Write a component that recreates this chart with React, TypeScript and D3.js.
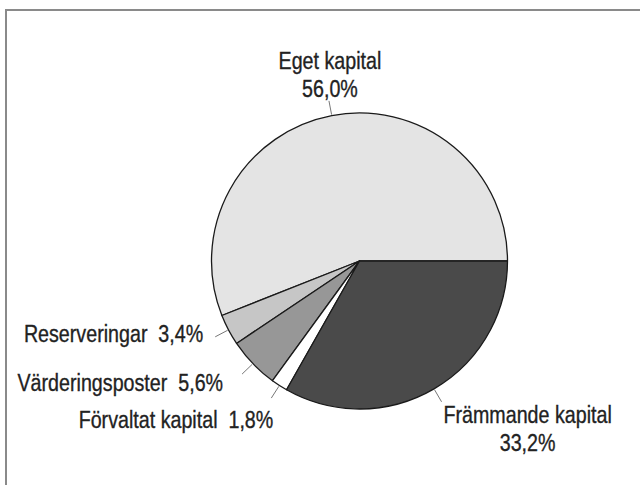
import React from 'react';
import * as d3 from 'd3';

const categories = ['Eget kapital', 'Reserveringar', 'Värderingsposter', 'Förvaltat kapital', 'Främmande kapital'];
const shares = [56.0, 3.4, 5.6, 1.8, 33.2];
const shareLabels = ['56,0%', '3,4%', '5,6%', '1,8%', '33,2%'];
const fills = ['#e4e4e4', '#c6c6c6', '#979797', '#ffffff', '#4a4a4a'];

const width = 640;
const height = 485;
const cx = 359.5;
const cy = 261;
const radius = 148;
// no condensed face installed, so squeeze Liberation Sans horizontally
const font = '"Liberation Sans", Arial, sans-serif';
const squeeze = 0.82;

// where each label sits relative to the outer end of its leader line
const labelPlacement = [
  { anchor: 'middle', dx: 1, lines: [{ dy: -32, name: true }, { dy: -4, pct: true }] },
  { anchor: 'end', dx: -12, lines: [{ dy: 5, both: true }] },
  { anchor: 'end', dx: -19, lines: [{ dy: 17, both: true }] },
  { anchor: 'end', dx: 2, lines: [{ dy: 30, both: true }] },
  { anchor: 'middle', dx: 86, lines: [{ dy: 21, name: true }, { dy: 49, pct: true }] },
];

export default function App() {
  const pie = d3.pie<number>()
    .sort(null)
    .startAngle(Math.PI / 2)
    .endAngle(Math.PI / 2 - 2 * Math.PI);
  const arcs = pie(shares);

  const arc = d3.arc<d3.PieArcDatum<number>>().innerRadius(0).outerRadius(radius);

  const pointAt = (d: d3.PieArcDatum<number>, r: number) => {
    const a = (d.startAngle + d.endAngle) / 2;
    return [Math.sin(a) * r, -Math.cos(a) * r];
  };

  return (
    <svg width={width} height={height} style={{ position: 'absolute', left: 0, top: 0, background: '#fff' }}>
      <line x1={5} y1={10} x2={width} y2={10} stroke="#8a8a8a" strokeWidth={2} />
      <line x1={6} y1={9} x2={6} y2={height} stroke="#8a8a8a" strokeWidth={2} />
      <g transform={`translate(${cx},${cy})`}>
        {arcs.map((d, i) => (
          <path key={i} d={arc(d) || ''} fill={fills[i]} stroke="#1a1a1a" strokeWidth={1.3} strokeLinejoin="round" />
        ))}
        {arcs.map((d, i) => {
          const [x1, y1] = pointAt(d, radius + 1);
          const [x2, y2] = pointAt(d, radius + 15);
          const p = labelPlacement[i];
          return (
            <g key={'l' + i}>
              <line x1={x1} y1={y1} x2={x2} y2={y2} stroke="#777" strokeWidth={1} />
              {p.lines.map((ln: any, j) => (
                <text
                  key={j}
                  transform={`translate(${x2 + p.dx},${y2 + ln.dy}) scale(${squeeze},1)`}
                  textAnchor={p.anchor as any}
                  fontFamily={font}
                  fontSize={24}
                  fill="#222"
                  stroke="#222"
                  strokeWidth={0.35}
                  style={{ whiteSpace: 'pre' }}
                >
                  {ln.both ? `${categories[i]}  ${shareLabels[i]}` : ln.name ? categories[i] : shareLabels[i]}
                </text>
              ))}
            </g>
          );
        })}
      </g>
    </svg>
  );
}
